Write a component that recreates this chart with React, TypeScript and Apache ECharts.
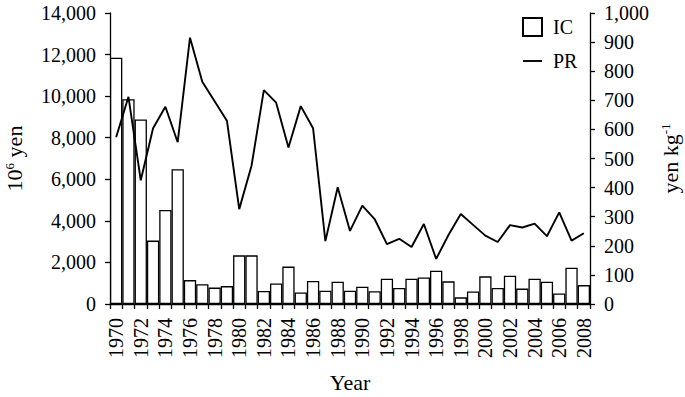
import React, { useEffect, useRef } from "react";
import * as echarts from "echarts";

const years: string[] = [
  "1970", "1971", "1972", "1973", "1974", "1975", "1976", "1977", "1978", "1979",
  "1980", "1981", "1982", "1983", "1984", "1985", "1986", "1987", "1988", "1989",
  "1990", "1991", "1992", "1993", "1994", "1995", "1996", "1997", "1998", "1999",
  "2000", "2001", "2002", "2003", "2004", "2005", "2006", "2007", "2008",
];

const icValues: number[] = [
  11850, 9850, 8880, 3050, 4520, 6480, 1150, 950, 790, 860,
  2340, 2340, 630, 990, 1800, 550, 1110, 640, 1070, 640,
  830, 610, 1220, 770, 1220, 1280, 1600, 1090, 320, 600,
  1330, 770, 1360, 740, 1220, 1070, 510, 1750, 910,
];

const prValues: number[] = [
  573, 712, 425, 604, 678, 556, 915, 764, 697, 630,
  326, 475, 735, 692, 538, 680, 604, 216, 401, 251,
  338, 292, 206, 224, 196, 275, 155, 237, 309, 272,
  235, 213, 271, 263, 276, 233, 315, 218, 243,
];

const FONT = "'Liberation Serif', 'Times New Roman', serif";

export default function App() {
  const ref = useRef<HTMLDivElement>(null);
  useEffect(() => {
    if (!ref.current) return;
    const chart = echarts.init(ref.current, null, { renderer: "svg" });
    const supRich = {
      sup: { fontFamily: FONT, fontSize: 13, color: "#000", padding: [0, 0, 10, 0] },
    };
    chart.setOption({
      animation: false,
      backgroundColor: "#fff",
      textStyle: { fontFamily: FONT, color: "#000" },
      grid: { left: 110, right: 95, top: 13, bottom: 93, containLabel: false, outerBoundsMode: "none" },
      legend: {
        orient: "vertical",
        left: 522,
        top: 17,
        padding: 0,
        itemWidth: 19,
        itemHeight: 18,
        itemGap: 14,
        formatter: "{t|{name}}",
        textStyle: {
          fontFamily: FONT,
          fontSize: 20,
          color: "#000",
          rich: { t: { fontFamily: FONT, fontSize: 20, color: "#000", padding: [0, 0, 0, 6] } },
        },
        data: [
          { name: "IC", icon: "rect" },
          { name: "PR", icon: "path://M0,0 L20,0 L20,2 L0,2 Z" },
        ],
      },
      xAxis: {
        type: "category",
        data: years,
        name: "Year",
        nameLocation: "middle",
        nameGap: 67,
        nameMoveOverlap: false,
        nameTextStyle: { fontFamily: FONT, fontSize: 22, color: "#000" },
        axisLine: { lineStyle: { color: "#000", width: 1.3 } },
        axisTick: { show: true, interval: 0, length: 5, lineStyle: { color: "#000", width: 1.3 } },
        axisLabel: {
          interval: 1,
          rotate: 90,
          margin: 14,
          fontFamily: FONT,
          fontSize: 20,
          color: "#000",
        },
      },
      yAxis: [
        {
          type: "value",
          min: 0,
          max: 14000,
          interval: 2000,
          name: "10{sup|6} yen",
          nameLocation: "middle",
          nameRotate: 90,
          nameGap: 84,
          nameMoveOverlap: false,
          nameTextStyle: { fontFamily: FONT, fontSize: 22, color: "#000", rich: supRich },
          splitLine: { show: false },
          axisLine: { show: true, lineStyle: { color: "#000", width: 1.3 } },
          axisTick: { show: true, length: 5, lineStyle: { color: "#000", width: 1.3 } },
          axisLabel: {
            margin: 14,
            fontFamily: FONT,
            fontSize: 20,
            color: "#000",
            formatter: (v: number) => v.toLocaleString("en-US"),
          },
        },
        {
          type: "value",
          min: 0,
          max: 1000,
          interval: 100,
          position: "right",
          name: "yen kg{sup|-1}",
          nameLocation: "middle",
          nameRotate: 90,
          nameGap: 69,
          nameMoveOverlap: false,
          nameTextStyle: { fontFamily: FONT, fontSize: 22, color: "#000", rich: supRich },
          splitLine: { show: false },
          axisLine: { show: true, lineStyle: { color: "#000", width: 1.3 } },
          axisTick: { show: true, length: 5, lineStyle: { color: "#000", width: 1.3 } },
          axisLabel: {
            margin: 14,
            fontFamily: FONT,
            fontSize: 20,
            color: "#000",
            formatter: (v: number) => v.toLocaleString("en-US"),
          },
        },
      ],
      series: [
        {
          name: "IC",
          type: "bar",
          data: icValues,
          yAxisIndex: 0,
          barCategoryGap: "0%",
          itemStyle: { color: "#fff", borderColor: "#000", borderWidth: 1.3 },
        },
        {
          name: "PR",
          type: "line",
          data: prValues,
          yAxisIndex: 1,
          showSymbol: false,
          symbol: "none",
          lineStyle: { color: "#000", width: 1.9 },
          itemStyle: { color: "#000" },
        },
      ],
    });
    return () => chart.dispose();
  }, []);
  return <div ref={ref} style={{ width: 685, height: 397, position: "absolute", left: 0, top: 0 }} />;
}
